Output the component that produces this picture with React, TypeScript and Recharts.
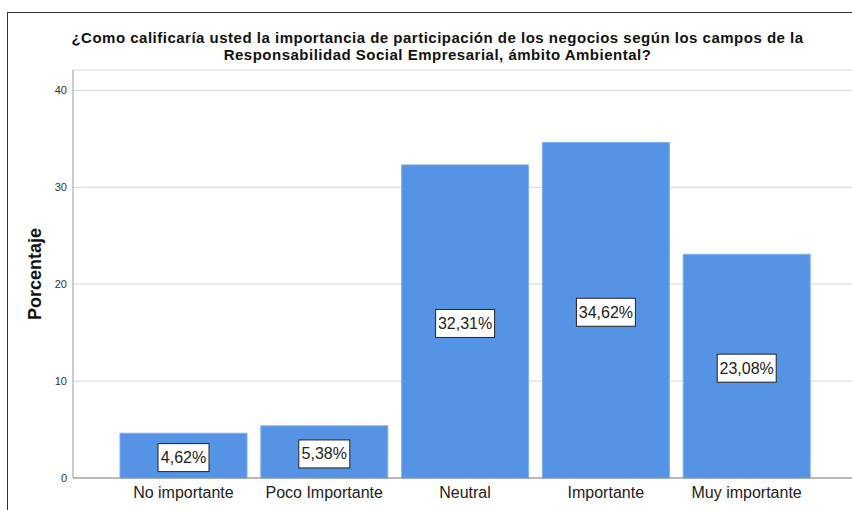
import React from "react";
import {
  BarChart,
  Bar,
  XAxis,
  YAxis,
  CartesianGrid,
  LabelList,
} from "recharts";

const categories = [
  "No importante",
  "Poco Importante",
  "Neutral",
  "Importante",
  "Muy importante",
];
const percentages = [4.62, 5.38, 32.31, 34.62, 23.08];
const yTicks = [0, 10, 20, 30, 40];

const titleLines = [
  "¿Como calificaría usted la importancia de participación de los negocios según los campos de la",
  "Responsabilidad Social Empresarial, ámbito Ambiental?",
];

const data = categories.map((name, i) => ({ name, value: percentages[i] }));

const font = "'Liberation Sans', Arial, sans-serif";

const fmt = (v: number) => v.toFixed(2).replace(".", ",") + "%";

const BoxLabel = (props: any) => {
  const { x, y, width, height, value } = props;
  const text = fmt(value);
  const w = text.length * 8 + 11;
  const h = 28;
  const cx = x + width / 2;
  const cy = y + height / 2 + 2;
  return (
    <g>
      <rect
        x={cx - w / 2}
        y={cy - h / 2}
        width={w}
        height={h}
        fill="#ffffff"
        stroke="#222"
        strokeWidth={1}
      />
      <text
        x={cx}
        y={cy}
        textAnchor="middle"
        dominantBaseline="central"
        fontSize={16}
        fontFamily={font}
        fill="#222"
      >
        {text}
      </text>
    </g>
  );
};

export default function App() {
  return (
    <div
      style={{
        position: "absolute",
        left: 0,
        top: 0,
        width: 852,
        height: 510,
        background: "#fff",
        overflow: "hidden",
      }}
    >
      {/* outer frame */}
      <div
        style={{
          position: "absolute",
          left: 7,
          top: 12,
          width: 852,
          height: 510,
          borderLeft: "1px solid #333",
          borderTop: "1px solid #333",
        }}
      />
      <div
        style={{
          position: "absolute",
          left: 23,
          top: 29,
          width: 829,
          textAlign: "center",
          fontFamily: font,
          fontWeight: "bold",
          fontSize: 15,
          letterSpacing: 0.5,
          lineHeight: "17px",
          color: "#111",
        }}
      >
        {titleLines.map((l) => (
          <div key={l}>{l}</div>
        ))}
      </div>
      <div style={{ position: "absolute", left: 0, top: 0 }}>
        <BarChart
          width={852}
          height={510}
          data={data}
          margin={{ top: 70, right: 0, bottom: 0, left: 0 }}
          barSize={127}
        >
          <CartesianGrid vertical={false} stroke="#d6d6d6" />
          <XAxis
            dataKey="name"
            height={32}
            padding={{ left: 40, right: 35 }}
            tickLine={false}
            tickSize={0}
            tickMargin={9}
            axisLine={{ stroke: "#888" }}
            tick={{ fontSize: 16, fill: "#222", fontFamily: font }}
            interval={0}
          />
          <YAxis
            width={73}
            domain={[0, 42.1]}
            ticks={yTicks}
            tickLine={false}
            tickSize={0}
            tickMargin={6}
            axisLine={{ stroke: "#999" }}
            tick={{ fontSize: 11, fill: "#333", fontFamily: font }}
            label={{
              value: "Porcentaje",
              angle: -90,
              position: "center",
              dx: -2,
              style: {
                fontSize: 18,
                fontWeight: "bold",
                fill: "#111",
                fontFamily: font,
              },
            }}
          />
          <Bar
            dataKey="value"
            fill="#5594E4"
            stroke="#7fb0ec"
            strokeWidth={1}
            isAnimationActive={false}
          >
            <LabelList dataKey="value" content={<BoxLabel />} />
          </Bar>
        </BarChart>
      </div>
    </div>
  );
}
